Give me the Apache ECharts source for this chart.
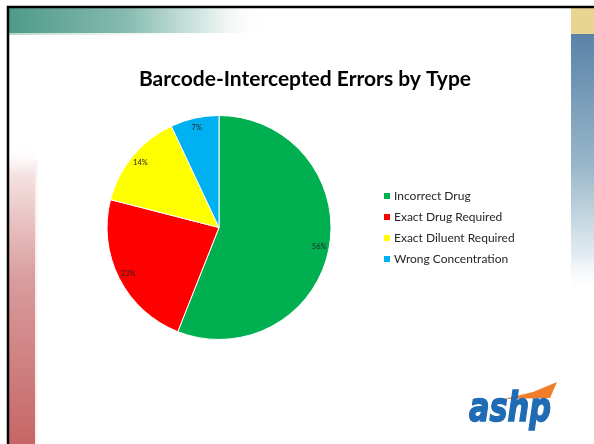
<!DOCTYPE html>
<html>
<head>
<meta charset="utf-8">
<script src="https://cdn.jsdelivr.net/npm/echarts@6/dist/echarts.min.js"></script>
<style>
html,body{margin:0;padding:0;background:#fff;}
#chart{width:594px;height:444px;}
</style>
</head>
<body>
<div id="chart"></div>
<script>
var chartTitle = 'Barcode-Intercepted Errors by Type';
var categories = ['Incorrect Drug', 'Exact Drug Required', 'Exact Diluent Required', 'Wrong Concentration'];
var values = [56, 23, 14, 7];
var colors = ['#00b050', '#ff0000', '#ffff00', '#00b0f0'];

var chart = echarts.init(document.getElementById('chart'), null, {renderer: 'canvas'});
var pieData = categories.map(function (c, i) {
  return {name: c, value: values[i], itemStyle: {color: colors[i]}};
});
var labelData = categories.map(function (c, i) {
  return {name: c, value: values[i]};
});

var option = {
  animation: false,
  backgroundColor: '#ffffff',
  title: {
    text: chartTitle,
    left: 305,
    top: 69,
    padding: 0,
    textAlign: 'center',
    textStyle: {fontFamily: 'Lato', fontWeight: 'bold', fontSize: 21, color: '#000000'}
  },
  legend: {
    orient: 'vertical',
    left: 382,
    top: 189,
    padding: 0,
    itemWidth: 8,
    itemHeight: 8,
    itemGap: 7,
    icon: 'rect',
    data: categories,
    textStyle: {fontFamily: 'Lato', fontSize: 12, color: '#262626', lineHeight: 14, padding: [0, 0, 0, -2]}
  },
  graphic: [
    {type: 'rect', silent: true, shape: {x: 9, y: 8, width: 260, height: 25},
      style: {fill: new echarts.graphic.LinearGradient(0, 0, 1, 0, [
        {offset: 0, color: '#4f9a88'}, {offset: 0.45, color: '#86bbaf'}, {offset: 0.85, color: '#f2f8f6'}, {offset: 1, color: 'rgba(255,255,255,0)'}])}},
    {type: 'rect', silent: true, shape: {x: 9, y: 33, width: 230, height: 2},
      style: {fill: new echarts.graphic.LinearGradient(0, 0, 1, 0, [
        {offset: 0, color: '#b8d6ce'}, {offset: 1, color: 'rgba(255,255,255,0)'}])}},
    {type: 'rect', silent: true, shape: {x: 571, y: 8, width: 23, height: 26},
      style: {fill: '#e8d591'}},
    {type: 'rect', silent: true, shape: {x: 571, y: 34, width: 23, height: 262},
      style: {fill: new echarts.graphic.LinearGradient(0, 0, 0, 1, [
        {offset: 0, color: '#5a83a8'}, {offset: 0.5, color: '#98b6c9'}, {offset: 0.85, color: '#e4edf2'}, {offset: 1, color: 'rgba(255,255,255,0)'}])}},
    {type: 'rect', silent: true, shape: {x: 9, y: 145, width: 26, height: 299},
      style: {fill: new echarts.graphic.LinearGradient(0, 0, 0, 1, [
        {offset: 0, color: 'rgba(255,255,255,0)'}, {offset: 0.1, color: '#f5e1e1'}, {offset: 0.45, color: '#d99c9c'}, {offset: 1, color: '#c66666'}])}},
    {type: 'rect', silent: true, shape: {x: 35, y: 160, width: 5, height: 284},
      style: {fill: new echarts.graphic.LinearGradient(0, 0, 1, 0, [
        {offset: 0, color: 'rgba(240,215,215,0.6)'}, {offset: 1, color: 'rgba(255,255,255,0)'}])}},
    {type: 'polyline', silent: true, shape: {points: [[8, 444], [8, 7], [594, 7]]},
      style: {stroke: '#000000', lineWidth: 2.5, fill: null}},
    {type: 'polygon', silent: true, shape: {points: [[504, 399], [533, 392], [557, 382], [550, 398]]},
      style: {fill: '#f07d2a'}},
    {type: 'text', silent: true, x: 469, y: 391, scaleX: 0.76,
      style: {text: 'ashp', fontFamily: 'DejaVu Sans', fontWeight: 'bold', fontStyle: 'italic', fontSize: 40, fill: '#1f6cb4', stroke: '#1f6cb4', lineWidth: 1.5}}
  ],
  series: [
    {
      type: 'pie',
      center: [219, 227.5],
      radius: [0, 112],
      startAngle: 90,
      clockwise: true,
      label: {show: false},
      labelLine: {show: false},
      itemStyle: {borderColor: '#ffffff', borderWidth: 1},
      emphasis: {disabled: true},
      data: pieData
    },
    {
      type: 'pie',
      center: [219, 227.5],
      radius: [86, 112],
      startAngle: 90,
      clockwise: true,
      silent: true,
      legendHoverLink: false,
      itemStyle: {color: 'rgba(0,0,0,0)', borderWidth: 0},
      label: {show: true, position: 'inside', formatter: '{d}%', fontFamily: 'Lato', fontSize: 7.5, color: '#262626'},
      labelLine: {show: false},
      emphasis: {disabled: true},
      data: labelData
    }
  ]
};
chart.setOption(option);
</script>
</body>
</html>
